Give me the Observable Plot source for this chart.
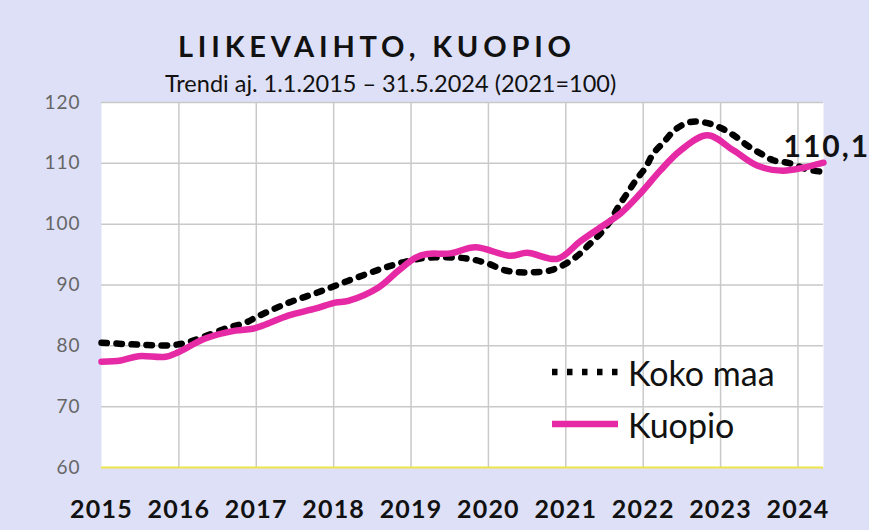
<!DOCTYPE html>
<html><head><meta charset="utf-8">
<script src="https://cdn.jsdelivr.net/npm/d3@7"></script>
<script src="https://cdn.jsdelivr.net/npm/@observablehq/plot@0.6"></script>
<style>
html,body{margin:0;padding:0;background:#dde0f6;}
#wrap{position:relative;width:869px;height:530px;overflow:hidden;font-family:Lato,"Open Sans",sans-serif;background:#dde0f6;}
#head{position:relative;height:90px;}
#title{position:absolute;left:178px;top:31px;font-size:29px;font-weight:bold;letter-spacing:4.8px;color:#111;white-space:nowrap;line-height:1;}
#sub{position:absolute;left:165px;top:72px;font-size:23.5px;color:#111;white-space:nowrap;line-height:1;}
.leg{position:absolute;left:552px;height:40px;display:flex;align-items:center;font-size:34px;color:#111;white-space:nowrap;}
.leg svg{margin-right:10px;}
#wrap svg g[aria-label="x-axis tick label"]{letter-spacing:1.2px;}
#wrap svg g[aria-label="y-axis tick label"]{letter-spacing:1px;}
#wrap svg g[aria-label="text"]{letter-spacing:2px;}
</style>
</head><body>
<div id="wrap">
  <div id="head"><div id="title"></div><div id="sub"></div></div>
  <div id="chart"></div>
</div>
<script>
const titleText = "LIIKEVAIHTO, KUOPIO";
const subtitleText = "Trendi aj. 1.1.2015 – 31.5.2024 (2021=100)";
const seriesNames = ["Koko maa", "Kuopio"];
const seriesColors = ["#000000", "#e62aa5"];
const years = [2015, 2016, 2017, 2018, 2019, 2020, 2021, 2022, 2023, 2024];
const yTicks = [60, 70, 80, 90, 100, 110, 120];
const endLabel = "110,1";

// Koko maa (decimal year, index)
const kokoT = [2015.00, 2015.47, 2015.89, 2016.09, 2016.30, 2016.64, 2016.86, 2017.03, 2017.42, 2017.80,
  2018.19, 2018.58, 2018.80, 2019.15, 2019.60, 2019.79, 2020.00, 2020.19, 2020.37, 2020.58,
  2020.80, 2020.97, 2021.15, 2021.29, 2021.45, 2021.58, 2021.67, 2021.80, 2021.91, 2022.03,
  2022.13, 2022.26, 2022.42, 2022.61, 2022.80, 2022.99, 2023.17, 2023.35, 2023.52, 2023.68,
  2023.90, 2024.12, 2024.33];
const kokoV = [80.5, 80.2, 80.1, 80.5, 81.4, 83.0, 83.8, 84.9, 87.1, 88.8,
  90.7, 92.5, 93.4, 94.4, 94.5, 94.2, 93.5, 92.5, 92.1, 92.1,
  92.4, 93.3, 94.8, 96.5, 98.5, 100.6, 102.7, 105.2, 107.3, 109.3,
  111.6, 113.4, 115.6, 116.8, 116.7, 115.9, 114.6, 112.9, 111.6, 110.5,
  110.0, 109.0, 108.6];

// Kuopio
const kuoT = [2015.00, 2015.25, 2015.48, 2015.83, 2016.00, 2016.34, 2016.73, 2016.95, 2017.12, 2017.42,
  2017.76, 2018.02, 2018.19, 2018.58, 2018.84, 2019.06, 2019.21, 2019.51, 2019.83, 2020.28,
  2020.50, 2020.89, 2021.19, 2021.45, 2021.71, 2021.96, 2022.22, 2022.48, 2022.83, 2023.17,
  2023.48, 2023.81, 2024.33];
const kuoV = [77.4, 77.6, 78.3, 78.2, 79.0, 81.2, 82.5, 82.8, 83.5, 85.0,
  86.1, 87.1, 87.4, 89.6, 92.4, 94.5, 95.1, 95.2, 96.2, 94.8,
  95.3, 94.3, 97.2, 99.5, 101.8, 105.0, 108.8, 112.1, 114.6, 112.1,
  109.6, 108.8, 110.1];

const koko = kokoT.map((t, i) => ({t, v: kokoV[i]}));
const kuo = kuoT.map((t, i) => ({t, v: kuoV[i]}));

document.getElementById("title").textContent = titleText;
document.getElementById("sub").textContent = subtitleText;

const dots = "5.5,9.5";
const chart = Plot.plot({
  width: 869, height: 440,
  marginTop: 12, marginBottom: 63, marginLeft: 101, marginRight: 46,
  style: {background: "transparent", overflow: "visible", fontFamily: "Lato, 'Open Sans', sans-serif"},
  x: {type: "linear", domain: [2015, 2024.33]},
  y: {domain: [60, 120]},
  marks: [
    Plot.frame({fill: "white", stroke: "none"}),
    Plot.gridY(yTicks.filter(d => d > 60), {stroke: "#c9c9c9", strokeOpacity: 1, strokeWidth: 1.5}),
    Plot.gridX(years.slice(1), {stroke: "#c9c9c9", strokeOpacity: 1, strokeWidth: 1.5}),
    Plot.ruleY([60], {stroke: "#efe44c", strokeWidth: 2}),
    Plot.axisY(yTicks, {tickSize: 0, tickPadding: 21, fontSize: 19, fill: "#666666", label: null}),
    Plot.axisX(years, {tickSize: 0, tickPadding: 33, fontSize: 25, fontWeight: "bold", fill: "#111", tickFormat: "d", label: null}),
    Plot.line(koko, {x: "t", y: "v", stroke: seriesColors[0], strokeWidth: 6.5, strokeDasharray: dots, curve: "catmull-rom"}),
    Plot.line(kuo, {x: "t", y: "v", stroke: seriesColors[1], strokeWidth: 6.5, curve: "catmull-rom"}),
    Plot.text([kuo[kuo.length - 1]], {x: "t", y: "v", text: () => endLabel, textAnchor: "start", dx: -40, dy: -15, fontSize: 30, fontWeight: "bold", fill: "#111"})
  ]
});
document.getElementById("chart").appendChild(chart);

// legend
const wrap = document.getElementById("wrap");
const legTops = [352, 404];
seriesNames.forEach((name, i) => {
  const row = document.createElement("div");
  row.className = "leg";
  row.style.top = legTops[i] + "px";
  const dash = i === 0 ? `stroke-dasharray="${dots}"` : '';
  row.innerHTML = `<svg width="66" height="10"><line x1="0" x2="66" y1="5" y2="5" stroke="${seriesColors[i]}" stroke-width="6.5" ${dash}/></svg><span>${name}</span>`;
  wrap.appendChild(row);
});
</script>
</body></html>
